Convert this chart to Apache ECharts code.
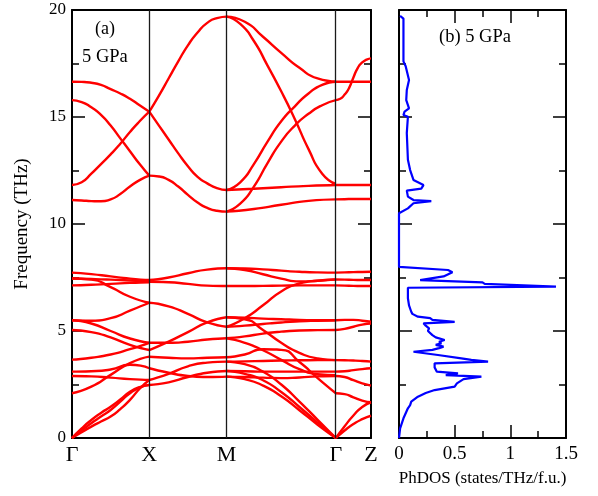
<!DOCTYPE html>
<html>
<head>
<meta charset="utf-8">
<script src="https://cdn.jsdelivr.net/npm/echarts@6/dist/echarts.min.js"></script>
<style>
  html, body { margin: 0; padding: 0; background: #ffffff; }
  #chart { width: 598px; height: 496px; }
</style>
</head>
<body>
<div id="chart"></div>
<script>
// High-symmetry path Γ–X–M–Γ–Z (reduced path length) and its labels
const kPath = [0, 1, 2, 3.4142, 3.869];
const kNames = ['Γ', 'X', 'M', 'Γ', 'Z'];

// Phonon branches per path segment (THz), evenly spaced samples along each segment
const bandsGX = [
  [16.65, 16.64, 16.6, 16.5, 16.3, 16.1, 15.85, 15.55, 15.25],
  [15.79, 15.7, 15.45, 15.1, 14.6, 14.0, 13.4, 12.8, 12.26],
  [11.82, 11.95, 12.35, 12.8, 13.25, 13.75, 14.3, 14.8, 15.25],
  [11.12, 11.1, 11.07, 11.06, 11.15, 11.4, 11.75, 12.05, 12.26],
  [7.73, 7.66, 7.55, 7.45, 7.38],
  [7.45, 7.43, 7.40, 7.36, 7.33],
  [7.13, 7.16, 7.20, 7.25, 7.28],
  [7.45, 7.40, 7.05, 6.60, 6.32],
  [5.50, 5.48, 5.60, 5.95, 6.32],
  [5.50, 5.35, 5.00, 4.65, 4.45],
  [5.05, 4.95, 4.70, 4.35, 4.11],
  [3.66, 3.75, 3.90, 4.15, 4.45],
  [2.09, 2.40, 2.95, 3.50, 3.80],
  [3.10, 3.12, 3.20, 3.42, 3.26],
  [2.90, 2.88, 2.82, 2.75, 2.71],
  [0, 0.45, 0.84, 1.17, 1.46, 1.80, 2.16, 2.38, 2.48],
  [0, 0.36, 0.69, 1.00, 1.31, 1.70, 2.09, 2.35, 2.48],
  [0, 0.27, 0.53, 0.77, 1.00, 1.35, 1.78, 2.30, 2.71]
];
const bandsXM = [
  [15.25, 16.0, 16.8, 17.6, 18.35, 18.95, 19.4, 19.62, 19.69],
  [15.25, 14.6, 13.95, 13.3, 12.7, 12.2, 11.9, 11.68, 11.59],
  [12.26, 12.22, 12.06, 11.75, 11.36, 11.0, 10.75, 10.62, 10.58],
  [7.38, 7.50, 7.70, 7.87, 7.93],
  [7.30, 7.28, 7.20, 7.12, 7.10],
  [6.32, 6.15, 5.80, 5.40, 5.20],
  [4.45, 4.45, 4.50, 4.60, 4.66],
  [4.11, 4.50, 4.95, 5.40, 5.64],
  [3.80, 3.75, 3.72, 3.75, 3.77],
  [3.26, 3.05, 2.90, 2.85, 2.87],
  [2.71, 3.00, 3.35, 3.52, 3.57],
  [2.48, 2.60, 2.85, 3.05, 3.13]
];
const bandsMG = [
  [19.69, 19.45, 18.75, 18.0, 17.3, 16.8, 16.65],
  [19.69, 19.35, 18.55, 17.4, 16.2, 14.9, 13.5, 12.35, 11.87],
  [11.59, 11.65, 11.72, 11.78, 11.82],
  [11.59, 11.95, 12.8, 13.85, 14.8, 15.5, 16.1, 16.5, 16.65],
  [10.58, 10.95, 11.75, 12.85, 13.85, 14.6, 15.15, 15.55, 15.79],
  [10.58, 10.70, 10.90, 11.08, 11.15],
  [7.93, 7.92, 7.88, 7.82, 7.77, 7.74, 7.73],
  [7.93, 7.85, 7.65, 7.45, 7.32, 7.35, 7.41],
  [7.10, 7.10, 7.11, 7.12, 7.13, 7.13, 7.13],
  [5.20, 5.60, 6.20, 6.85, 7.22, 7.35, 7.41],
  [5.64, 5.62, 5.58, 5.55, 5.52, 5.50, 5.50],
  [5.20, 5.25, 5.33, 5.40, 5.45, 5.48, 5.50],
  [5.64, 5.55, 5.05, 4.45, 3.98, 3.72, 3.64],
  [4.66, 4.75, 4.88, 4.97, 5.02, 5.04, 5.05],
  [4.66, 4.45, 4.10, 3.65, 3.22, 2.98, 2.94],
  [3.77, 3.90, 4.15, 4.12, 3.55, 2.80, 2.09],
  [3.57, 3.58, 3.60, 3.62, 3.63, 3.64, 3.64],
  [3.13, 3.12, 3.10, 3.10, 3.10, 3.10, 3.10],
  [2.87, 2.85, 2.82, 2.80, 2.83, 2.88, 2.90],
  [3.57, 3.45, 3.10, 2.50, 1.70, 0.85, 0],
  [3.13, 3.00, 2.70, 2.15, 1.45, 0.72, 0],
  [2.87, 2.75, 2.45, 1.95, 1.30, 0.62, 0]
];
const bandsGZ = [
  [16.65, 16.65, 16.65, 16.65, 16.65],
  [15.79, 15.85, 16.05, 16.35, 16.85, 17.3, 17.55, 17.68, 17.74],
  [11.82, 11.82, 11.82, 11.82, 11.82],
  [11.15, 11.16, 11.17, 11.17, 11.17],
  [7.73, 7.74, 7.75, 7.76, 7.77],
  [7.41, 7.40, 7.39, 7.38, 7.38],
  [7.13, 7.12, 7.11, 7.10, 7.10],
  [5.50, 5.52, 5.52, 5.48, 5.43],
  [5.05, 5.10, 5.20, 5.30, 5.35],
  [3.64, 3.63, 3.62, 3.60, 3.57],
  [3.10, 3.12, 3.17, 3.22, 3.26],
  [2.90, 2.85, 2.70, 2.55, 2.45],
  [2.09, 2.05, 1.90, 1.75, 1.67],
  [0, 0.55, 1.05, 1.45, 1.67],
  [0, 0.35, 0.65, 0.88, 1.04]
];

// Phonon density of states: frequency (THz) and PhDOS (states/THz/f.u.)
const dosFreq = [0, 0.45, 0.92, 1.39, 1.54, 1.70, 1.93, 2.10, 2.24, 2.40, 2.55, 2.63, 2.75, 2.87,
  2.94, 3.02, 3.10, 3.30, 3.49, 3.57, 3.65, 3.72, 3.88, 4.03, 4.12, 4.20, 4.27, 4.35, 4.42, 4.50,
  4.58, 4.70, 4.81, 5.00, 5.12, 5.25, 5.36, 5.43, 5.52, 5.60, 5.67, 5.80, 5.90, 6.20, 6.53, 7.02,
  7.07, 7.20, 7.27, 7.38, 7.55, 7.75, 7.85, 8.00, 10.50, 10.73, 10.97, 11.07, 11.12, 11.28, 11.56,
  11.65, 11.82, 12.06, 12.52, 13.00, 14.25, 15.01, 15.09, 15.25, 15.40, 15.79, 16.26, 16.73,
  17.37, 17.60, 19.60, 19.72];
const dosValue = [0, 0.01, 0.04, 0.08, 0.10, 0.11, 0.17, 0.24, 0.32, 0.50, 0.52, 0.53, 0.58, 0.74,
  0.42, 0.53, 0.34, 0.32, 0.32, 0.80, 0.65, 0.56, 0.35, 0.13, 0.30, 0.36, 0.40, 0.33, 0.38, 0.36,
  0.41, 0.33, 0.30, 0.26, 0.27, 0.24, 0.22, 0.50, 0.30, 0.28, 0.17, 0.12, 0.11, 0.09, 0.08, 0.08,
  1.41, 0.77, 0.75, 0.19, 0.40, 0.48, 0.44, 0, 0, 0.08, 0.13, 0.29, 0.13, 0.08, 0.07,
  0.20, 0.22, 0.13, 0.10, 0.08, 0.07, 0.08, 0.04, 0.05, 0.09, 0.065, 0.07, 0.09,
  0.06, 0.04, 0.04, 0.01];

const freqRange = [0, 20];
const dosRange = [0, 1.5];

const serif = '"Liberation Serif", "DejaVu Serif", serif';
const black = '#000000';

const chart = echarts.init(document.getElementById('chart'), null, { renderer: 'canvas' });

function frameAxis(extra) {
  return Object.assign({
    type: 'value',
    axisLine: { show: true, onZero: false, lineStyle: { color: black, width: 2 } },
    axisTick: { show: true, inside: true, length: 13, lineStyle: { color: black, width: 1.5 } },
    minorTick: { show: true, splitNumber: 2, length: 7, lineStyle: { color: black, width: 1.5 } },
    axisLabel: { show: false },
    splitLine: { show: false }
  }, extra);
}

const series = [];
[[bandsGX, 0, 1], [bandsXM, 1, 2], [bandsMG, 2, 3], [bandsGZ, 3, 4]].forEach(([bands, a, b]) => {
  const k0 = kPath[a], k1 = kPath[b];
  bands.forEach(row => {
    series.push({
      type: 'line', xAxisIndex: 0, yAxisIndex: 0,
      smooth: 0.6, symbol: 'none', silent: true,
      lineStyle: { color: '#ff0000', width: 2.4 },
      data: row.map((f, i) => [k0 + (k1 - k0) * i / (row.length - 1), f])
    });
  });
});

// vertical guides at the interior high-symmetry points
series[0].markLine = {
  silent: true, symbol: ['none', 'none'],
  label: { show: false },
  lineStyle: { color: '#1a1a1a', width: 1.3, type: 'solid' },
  data: kPath.slice(1, 4).map(k => ({ xAxis: k }))
};

series.push({
  type: 'line', xAxisIndex: 2, yAxisIndex: 2,
  symbol: 'none', silent: true,
  lineStyle: { color: '#0000ff', width: 2.2 },
  data: dosFreq.map((f, i) => [dosValue[i], f])
});

function nearestName(v) {
  let best = 0;
  kPath.forEach((k, i) => { if (Math.abs(k - v) < Math.abs(kPath[best] - v)) best = i; });
  return kNames[best];
}

chart.setOption({
  animation: false,
  backgroundColor: '#ffffff',
  grid: [
    { left: 72, top: 10, width: 299, height: 428 },
    { left: 399, top: 10, width: 167, height: 428 }
  ],
  xAxis: [
    frameAxis({
      gridIndex: 0, position: 'bottom', min: kPath[0], max: kPath[4],
      axisTick: { show: false }, minorTick: { show: false },
      axisLabel: {
        show: true, customValues: kPath, formatter: v => nearestName(v),
        fontFamily: serif, fontSize: 22, color: black, margin: 6
      }
    }),
    frameAxis({
      gridIndex: 0, position: 'top', min: kPath[0], max: kPath[4],
      axisTick: { show: false }, minorTick: { show: false }
    }),
    frameAxis({
      gridIndex: 1, position: 'bottom', min: dosRange[0], max: dosRange[1], interval: 0.5,
      axisLabel: { show: true, fontFamily: serif, fontSize: 19, color: black, margin: 7,
        showMinLabel: true, showMaxLabel: true },
      name: 'PhDOS (states/THz/f.u.)', nameLocation: 'middle', nameGap: 32,
      nameTextStyle: { fontFamily: serif, fontSize: 17, color: black }
    }),
    frameAxis({
      gridIndex: 1, position: 'top', min: dosRange[0], max: dosRange[1], interval: 0.5
    })
  ],
  yAxis: [
    frameAxis({
      gridIndex: 0, position: 'left', min: freqRange[0], max: freqRange[1], interval: 5,
      axisLabel: { show: true, fontFamily: serif, fontSize: 17, color: black, margin: 6,
        showMinLabel: true, showMaxLabel: true },
      name: 'Frequency (THz)', nameLocation: 'middle', nameGap: 40,
      nameTextStyle: { fontFamily: serif, fontSize: 19, color: black }
    }),
    frameAxis({
      gridIndex: 0, position: 'right', min: freqRange[0], max: freqRange[1], interval: 5
    }),
    frameAxis({
      gridIndex: 1, position: 'left', min: freqRange[0], max: freqRange[1], interval: 5
    }),
    frameAxis({
      gridIndex: 1, position: 'right', min: freqRange[0], max: freqRange[1], interval: 5
    })
  ],
  graphic: [
    { type: 'text', x: 95, y: 29, silent: true,
      style: { text: '(a)', font: '18px ' + serif, fill: black, textVerticalAlign: 'middle' } },
    { type: 'text', x: 82, y: 57, silent: true,
      style: { text: '5 GPa', font: '18.5px ' + serif, fill: black, textVerticalAlign: 'middle' } },
    { type: 'text', x: 439, y: 37, silent: true,
      style: { text: '(b) 5 GPa', font: '18.5px ' + serif, fill: black, textVerticalAlign: 'middle' } }
  ],
  series: series
});
</script>
</body>
</html>
